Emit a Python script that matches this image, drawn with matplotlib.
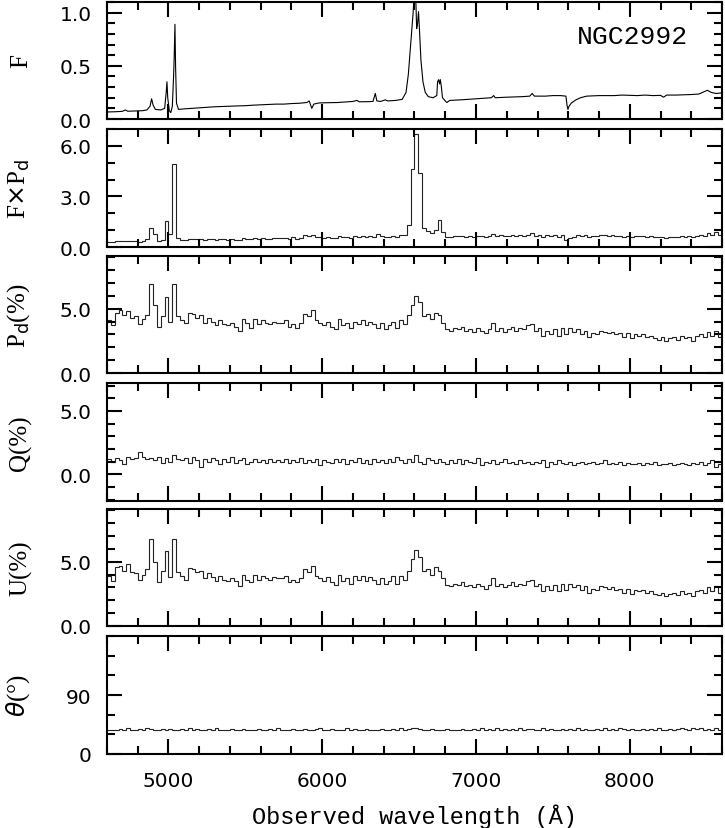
import numpy as np
import matplotlib.pyplot as plt
from matplotlib.ticker import MultipleLocator, FormatStrFormatter

# total flux spectrum (observed wavelength, arbitrary units)
f_wave = [4600, 4650, 4700, 4720, 4735, 4780, 4830, 4860, 4880, 4890,
          4900, 4915, 4950, 4975, 4985, 4990, 4995, 5005, 5015, 5025,
          5033, 5037, 5042, 5046, 5052, 5065, 5100, 5150, 5200, 5250,
          5300, 5350, 5400, 5450, 5500, 5550, 5600, 5650, 5700, 5750,
          5800, 5850, 5900, 5915, 5925, 5932, 5945, 5975, 6000, 6050,
          6100, 6150, 6200, 6225, 6240, 6300, 6330, 6345, 6355, 6380,
          6410, 6425, 6480, 6520, 6545, 6560, 6575, 6590, 6600, 6608,
          6614, 6620, 6626, 6632, 6642, 6655, 6670, 6690, 6720, 6745,
          6750, 6757, 6763, 6768, 6775, 6782, 6800, 6810, 6830, 6900,
          6950, 7000, 7050, 7100, 7115, 7125, 7200, 7300, 7350, 7365,
          7380, 7450, 7500, 7550, 7585, 7592, 7598, 7605, 7620, 7650,
          7680, 7720, 7800, 7900, 7950, 8000, 8050, 8100, 8150, 8200,
          8220, 8240, 8300, 8400, 8450, 8490, 8505, 8530, 8560, 8600]
f_flux = [0.066, 0.068, 0.072, 0.085, 0.073, 0.075, 0.078, 0.085, 0.12, 0.19,
          0.13, 0.09, 0.085, 0.10, 0.25, 0.35, 0.20, 0.08, 0.06, 0.12,
          0.40, 0.58, 0.89, 0.50, 0.15, 0.09, 0.095, 0.10, 0.105, 0.11,
          0.115, 0.118, 0.12, 0.123, 0.125, 0.13, 0.133, 0.137, 0.14, 0.14,
          0.145, 0.148, 0.155, 0.17, 0.13, 0.10, 0.14, 0.15, 0.152, 0.153,
          0.155, 0.16, 0.165, 0.175, 0.162, 0.163, 0.165, 0.24, 0.17, 0.165,
          0.18, 0.17, 0.175, 0.185, 0.25, 0.42, 0.70, 0.98, 1.20, 1.15,
          0.85, 0.90, 1.01, 0.85, 0.55, 0.35, 0.25, 0.21, 0.20, 0.22,
          0.35, 0.37, 0.33, 0.37, 0.30, 0.20, 0.17, 0.155, 0.175, 0.18,
          0.185, 0.19, 0.195, 0.20, 0.22, 0.20, 0.205, 0.21, 0.215, 0.24,
          0.215, 0.215, 0.22, 0.22, 0.215, 0.13, 0.09, 0.12, 0.15, 0.18,
          0.20, 0.215, 0.22, 0.22, 0.225, 0.222, 0.22, 0.225, 0.22, 0.222,
          0.205, 0.225, 0.225, 0.23, 0.235, 0.26, 0.27, 0.25, 0.24, 0.245]

# binned polarimetry, 25 A bins starting at 4600 A
bin_start = 4600
bin_width = 25

fpd = [0.29, 0.27, 0.33, 0.35, 0.36, 0.38, 0.34, 0.36, 0.31, 0.36,
       0.45, 1.10, 0.75, 0.35, 0.40, 1.55, 0.80, 4.90, 0.55, 0.42,
       0.40, 0.50, 0.48, 0.45, 0.50, 0.44, 0.50, 0.46, 0.43, 0.48,
       0.45, 0.44, 0.47, 0.44, 0.40, 0.52, 0.50, 0.45, 0.55, 0.50,
       0.53, 0.50, 0.49, 0.53, 0.52, 0.53, 0.56, 0.50, 0.60, 0.50,
       0.55, 0.70, 0.66, 0.72, 0.60, 0.58, 0.55, 0.60, 0.55, 0.52,
       0.65, 0.58, 0.62, 0.55, 0.66, 0.60, 0.65, 0.60, 0.66, 0.62,
       0.80, 0.64, 0.60, 0.62, 0.66, 0.60, 0.72, 0.70, 1.30, 4.60,
       6.70, 4.40, 1.10, 0.95, 0.85, 1.00, 1.60, 0.90, 0.60, 0.62,
       0.65, 0.63, 0.68, 0.62, 0.64, 0.60, 0.67, 0.63, 0.60, 0.68,
       0.78, 0.66, 0.70, 0.64, 0.68, 0.72, 0.66, 0.70, 0.68, 0.74,
       0.82, 0.68, 0.72, 0.62, 0.70, 0.64, 0.72, 0.62, 0.74, 0.40,
       0.55, 0.60, 0.70, 0.64, 0.72, 0.62, 0.68, 0.66, 0.72, 0.70,
       0.68, 0.70, 0.66, 0.68, 0.62, 0.68, 0.60, 0.66, 0.64, 0.66,
       0.62, 0.64, 0.60, 0.58, 0.62, 0.56, 0.60, 0.62, 0.58, 0.65,
       0.60, 0.63, 0.58, 0.66, 0.70, 0.66, 0.82, 0.70, 0.88, 0.72]

pd_pct = [4.1, 3.7, 4.7, 4.9, 4.5, 4.8, 4.3, 4.4, 3.8, 4.2,
          4.5, 6.9, 5.3, 3.6, 4.4, 5.9, 4.0, 6.9, 4.4, 4.1,
          3.9, 4.7, 4.6, 4.3, 4.5, 3.9, 4.3, 4.0, 3.7, 4.1,
          3.8, 3.7, 3.9, 3.6, 3.3, 4.2, 3.9, 3.5, 4.2, 3.8,
          4.1, 3.9, 3.8, 4.0, 3.9, 3.9, 4.1, 3.6, 3.8, 3.5,
          3.9, 4.6, 4.4, 4.9, 4.1, 3.9, 3.7, 4.0, 3.6, 3.4,
          4.2, 3.7, 3.9, 3.5, 4.0, 3.8, 4.1, 3.7, 4.0, 3.8,
          3.5, 3.9, 3.4, 3.7, 4.0, 3.5, 4.1, 3.8, 4.5, 5.3,
          6.0, 5.5, 4.4, 4.6, 4.2, 4.7, 4.5, 3.9, 3.4, 3.3,
          3.5, 3.4, 3.6, 3.3, 3.4, 3.2, 3.5, 3.3, 3.1, 3.4,
          3.9, 3.3, 3.5, 3.2, 3.4, 3.6, 3.3, 3.5, 3.4, 3.7,
          3.8, 3.3, 3.5, 2.9, 3.3, 3.0, 3.4, 2.9, 3.5, 3.0,
          3.5, 3.2, 3.4, 3.0, 3.3, 2.8, 3.1, 3.0, 3.3, 3.2,
          3.1, 3.2, 3.0, 3.1, 2.8, 3.1, 2.7, 3.0, 2.9, 3.0,
          2.8, 2.9, 2.7, 2.6, 2.8, 2.5, 2.7, 2.8, 2.6, 2.9,
          2.7, 2.8, 2.5, 2.9, 3.0, 2.8, 3.2, 2.9, 3.3, 2.8]

q_pct = [1.2, 1.0, 1.3, 1.1, 0.8, 1.4, 1.2, 1.3, 1.8, 1.4,
         1.2, 1.3, 1.1, 1.4, 0.9, 1.3, 1.0, 1.5, 1.2, 1.1,
         1.3, 0.9, 1.4, 1.1, 0.6, 1.2, 1.0, 1.3, 1.1, 0.8,
         1.2, 1.0, 1.4, 0.9, 1.1, 1.3, 0.8, 1.0, 1.2, 1.0,
         1.1, 0.9, 1.2, 1.0, 1.1, 1.0, 1.2, 0.9, 1.1, 1.0,
         1.3, 0.9, 1.1, 1.0, 1.2, 0.7, 1.1, 1.0, 0.9, 1.2,
         1.0, 1.2, 0.8, 1.1, 1.0, 1.3, 0.9, 1.1, 0.8, 1.2,
         1.0, 1.1, 0.9, 1.2, 1.0, 1.4, 1.1, 0.9, 1.2, 1.0,
         1.5, 1.0, 0.8, 1.3, 1.1, 0.9, 1.2, 1.0, 0.8, 1.1,
         0.9, 1.2, 0.8, 1.1, 1.0, 0.9, 1.3, 0.7, 1.0, 0.9,
         1.1, 0.8, 1.0, 1.2, 0.9, 1.0, 0.8, 1.1, 0.9, 1.0,
         0.8, 1.0, 0.9, 1.1, 0.6, 1.0, 0.8, 1.1, 0.9, 0.8,
         1.0, 0.7, 0.9, 1.0, 0.8, 0.9, 1.0, 0.8, 0.9, 1.1,
         0.8, 0.9, 0.8, 1.0, 0.7, 0.9, 0.8, 0.8, 0.9, 0.7,
         0.9, 0.8, 1.0, 0.7, 0.8, 0.8, 0.9, 0.7, 0.8, 0.9,
         0.8, 0.7, 0.9, 0.8, 1.0, 0.7, 0.9, 1.1, 0.6, 0.8]

u_pct = [3.9, 3.5, 4.6, 4.7, 4.3, 4.8, 4.2, 4.1, 3.6, 4.0,
         4.4, 6.8, 5.0, 3.4, 4.3, 5.8, 3.8, 6.8, 4.2, 3.9,
         3.6, 4.5, 4.4, 4.2, 4.3, 3.7, 4.1, 3.8, 3.5, 3.9,
         3.6, 3.5, 3.7, 3.5, 3.1, 4.0, 3.6, 3.4, 4.0, 3.6,
         3.9, 3.7, 3.6, 3.8, 3.7, 3.7, 3.9, 3.4, 3.6, 3.4,
         3.7, 4.4, 4.2, 4.7, 3.9, 3.7, 3.5, 3.8, 3.4, 3.2,
         4.0, 3.5, 3.7, 3.3, 3.9, 3.6, 3.9, 3.5, 3.8, 3.6,
         3.3, 3.7, 3.3, 3.5, 3.9, 3.3, 3.9, 3.6, 4.3, 5.2,
         5.9, 5.4, 4.3, 4.4, 4.0, 4.6, 4.3, 3.7, 3.2, 3.1,
         3.3, 3.2, 3.4, 3.1, 3.2, 3.0, 3.3, 3.1, 2.9, 3.2,
         3.7, 3.1, 3.3, 3.0, 3.2, 3.4, 3.1, 3.3, 3.2, 3.5,
         3.6, 3.1, 3.3, 2.7, 3.1, 2.8, 3.2, 2.7, 3.3, 2.8,
         3.3, 3.0, 3.2, 2.8, 3.1, 2.6, 2.9, 2.8, 3.1, 3.0,
         2.9, 3.0, 2.8, 2.9, 2.6, 2.9, 2.5, 2.8, 2.7, 2.8,
         2.6, 2.7, 2.5, 2.4, 2.6, 2.3, 2.5, 2.6, 2.4, 2.7,
         2.5, 2.6, 2.3, 2.7, 2.8, 2.6, 3.0, 2.7, 3.1, 2.6]

# last value sits just past the plotted range (edge artefact)
theta_deg = [36, 37, 36, 38, 37, 39, 36, 37, 38, 37,
             39, 38, 37, 36, 38, 37, 38, 37, 36, 38,
             37, 39, 37, 38, 36, 37, 38, 37, 39, 37,
             36, 37, 38, 36, 37, 38, 37, 36, 37, 38,
             37, 36, 38, 37, 39, 37, 36, 37, 38, 36,
             37, 38, 36, 37, 38, 39, 37, 36, 38, 37,
             36, 37, 39, 37, 38, 36, 37, 38, 37, 36,
             37, 38, 36, 37, 38, 37, 39, 37, 38, 39,
             39, 38, 37, 36, 38, 37, 36, 37, 38, 37,
             36, 37, 38, 37, 36, 38, 37, 39, 37, 38,
             37, 39, 36, 38, 37, 38, 36, 39, 37, 38,
             38, 36, 37, 39, 37, 38, 37, 36, 38, 37,
             38, 37, 39, 37, 38, 37, 36, 38, 37, 39,
             37, 38, 37, 40, 38, 37, 38, 37, 36, 38,
             37, 38, 37, 39, 36, 37, 38, 37, 38, 39,
             38, 37, 39, 38, 40, 37, 38, 36, 39, 37,
             105]

labels = ['F', r'F$\times$P$_{\rm d}$', r'P$_{\rm d}$(%)', 'Q(%)', 'U(%)',
          r'$\theta$(°)']
ylims = [(0, 1.1), (0, 7.0), (0, 9.1), (-2.1, 7.2), (0, 9.1), (0, 180)]
yticks = [[0, 0.5, 1.0], [0, 3, 6], [0, 5], [0, 5], [0, 5], [0, 90]]
minor = [0.1, 1.0, 1.0, 1.0, 1.0, 30]
binned = [fpd, pd_pct, q_pct, u_pct, theta_deg]

# panel top/bottom in pixels
W, H = 725, 829
tops = [3, 130, 257, 384, 510, 637]
bots = [120, 248, 374, 502, 627, 755]
x0, x1 = 107, 722

fig = plt.figure(figsize=(W / 100, H / 100), dpi=100)
axes = []
for i in range(6):
    ax = fig.add_axes([x0 / W, 1 - bots[i] / H, (x1 - x0) / W,
                       (bots[i] - tops[i]) / H])
    axes.append(ax)
    if i == 0:
        ax.plot(f_wave, f_flux, color='k', lw=0.8)
    else:
        vals = binned[i - 1]
        edges = bin_start + bin_width * np.arange(len(vals) + 1)
        ax.stairs(vals, edges, baseline=None, color='#222222', lw=0.8)
    ax.set_xlim(4600, 8600)
    ax.set_ylim(*ylims[i])
    ax.xaxis.set_major_locator(MultipleLocator(1000))
    ax.xaxis.set_minor_locator(MultipleLocator(200))
    ax.set_yticks(yticks[i])
    ax.yaxis.set_minor_locator(MultipleLocator(minor[i]))
    if i == 5:
        ax.yaxis.set_major_formatter(FormatStrFormatter('%d'))
    else:
        ax.yaxis.set_major_formatter(FormatStrFormatter('%.1f'))
    ax.set_ylim(*ylims[i])
    ax.tick_params(which='both', direction='in', top=True, right=True,
                   width=1.5, labelsize=14.5)
    ax.tick_params(which='major', length=10.5)
    ax.tick_params(which='minor', length=5.8)
    ax.tick_params(axis='y', pad=11)
    ax.tick_params(axis='x', pad=12)
    if i < 5:
        ax.tick_params(labelbottom=False)
    for s in ax.spines.values():
        s.set_linewidth(1.5)
    ax.set_ylabel(labels[i], family='Liberation Serif', fontsize=18)
    ax.yaxis.set_label_coords(-0.122, 0.5)

axes[0].text(0.945, 0.71, 'NGC2992', transform=axes[0].transAxes,
             ha='right', va='center', family='Liberation Mono', fontsize=19)
axes[5].set_xlabel('Observed wavelength (Å)', family='Liberation Mono',
                   fontsize=17, labelpad=10)

fig.savefig('out.png', dpi=100)
